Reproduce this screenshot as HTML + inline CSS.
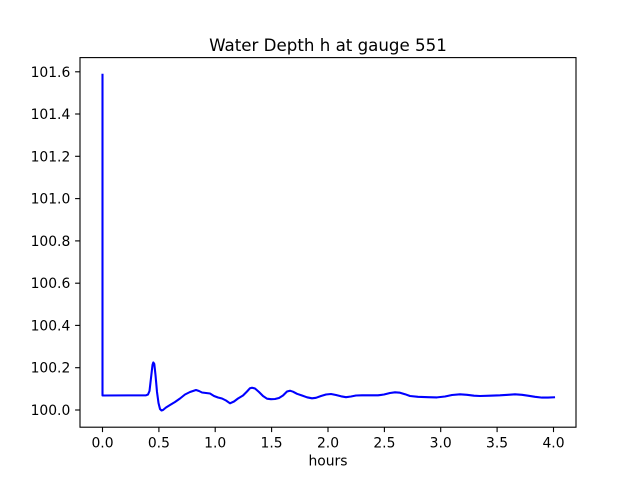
<!DOCTYPE html>
<html><head><meta charset="utf-8"><style>
html,body{margin:0;padding:0;background:#fff;}
svg{display:block;}
text{font-family:"DejaVu Sans","Liberation Sans",sans-serif;fill:#000;}
</style></head><body>
<svg width="640" height="480" viewBox="0 0 640 480" xmlns="http://www.w3.org/2000/svg">
<rect x="0" y="0" width="640" height="480" fill="#fff"/>
<text x="328" y="51" font-size="16.67" text-anchor="middle">Water Depth h at gauge 551</text>
<!-- curve -->
<polyline fill="none" stroke="#0000ff" stroke-width="2.08" stroke-linejoin="round" stroke-linecap="square" points="102.5,74.8 102.5,395.5 146,395.3 148,394.5 149.5,391 151,378 152.5,365 153.3,362.5 154.3,364 155.5,375 157,392 158.5,403 160,409 161.5,410.5 163,410 166,407.5 170,405 175,402 180,398.5 185,394.5 190,392 196,390 199,391 202,392.5 206,393 210,393.5 214,396 218,397.5 222,398.5 226,400.5 230,403.3 234,401.5 238,398.5 243,395.5 247,391.5 250,388.2 252,387.7 255,388.5 259,392 263,396 267,398.7 271,399.2 275,399 279,398 283,395.5 287,391.5 290,390.7 293,391.7 297,393.8 302,395.5 307,397.3 312,398.3 316,397.8 321,396 326,394.5 331,394 336,395 341,396.3 346,397.2 351,396.5 356,395.5 362,395.3 370,395.3 378,395.3 384,394.5 390,393 395,392.3 400,392.7 405,394.2 410,396 418,396.8 428,397.2 437,397.4 445,396.5 452,395 460,394.3 467,394.8 474,395.7 480,396 490,395.7 500,395.3 508,394.8 515,394.3 522,394.8 528,395.7 535,396.8 542,397.6 548,397.6 554,397.3"/>
<!-- spines -->
<rect x="80" y="57.6" width="496" height="369.6" fill="none" stroke="#000" stroke-width="1.11"/>
<!-- x ticks -->
<g stroke="#000" stroke-width="1.11">
<line x1="102.5" y1="427.2" x2="102.5" y2="432.1"/>
<line x1="158.9" y1="427.2" x2="158.9" y2="432.1"/>
<line x1="215.2" y1="427.2" x2="215.2" y2="432.1"/>
<line x1="271.6" y1="427.2" x2="271.6" y2="432.1"/>
<line x1="328" y1="427.2" x2="328" y2="432.1"/>
<line x1="384.4" y1="427.2" x2="384.4" y2="432.1"/>
<line x1="440.7" y1="427.2" x2="440.7" y2="432.1"/>
<line x1="497.1" y1="427.2" x2="497.1" y2="432.1"/>
<line x1="553.5" y1="427.2" x2="553.5" y2="432.1"/>
</g>
<g font-size="13.89" text-anchor="middle">
<text x="102.5" y="447.3">0.0</text>
<text x="158.9" y="447.3">0.5</text>
<text x="215.2" y="447.3">1.0</text>
<text x="271.6" y="447.3">1.5</text>
<text x="328" y="447.3">2.0</text>
<text x="384.4" y="447.3">2.5</text>
<text x="440.7" y="447.3">3.0</text>
<text x="497.1" y="447.3">3.5</text>
<text x="553.5" y="447.3">4.0</text>
</g>
<text x="328" y="465.5" font-size="13.89" text-anchor="middle">hours</text>
<!-- y ticks -->
<g stroke="#000" stroke-width="1.11">
<line x1="75.1" y1="410" x2="80" y2="410"/>
<line x1="75.1" y1="367.7" x2="80" y2="367.7"/>
<line x1="75.1" y1="325.4" x2="80" y2="325.4"/>
<line x1="75.1" y1="283.2" x2="80" y2="283.2"/>
<line x1="75.1" y1="240.9" x2="80" y2="240.9"/>
<line x1="75.1" y1="198.6" x2="80" y2="198.6"/>
<line x1="75.1" y1="156.3" x2="80" y2="156.3"/>
<line x1="75.1" y1="114" x2="80" y2="114"/>
<line x1="75.1" y1="71.8" x2="80" y2="71.8"/>
</g>
<g font-size="13.89" text-anchor="end">
<text x="70.3" y="415">100.0</text>
<text x="70.3" y="372.7">100.2</text>
<text x="70.3" y="330.4">100.4</text>
<text x="70.3" y="288.2">100.6</text>
<text x="70.3" y="245.9">100.8</text>
<text x="70.3" y="203.6">101.0</text>
<text x="70.3" y="161.3">101.2</text>
<text x="70.3" y="119">101.4</text>
<text x="70.3" y="76.8">101.6</text>
</g>
</svg>
</body></html>
